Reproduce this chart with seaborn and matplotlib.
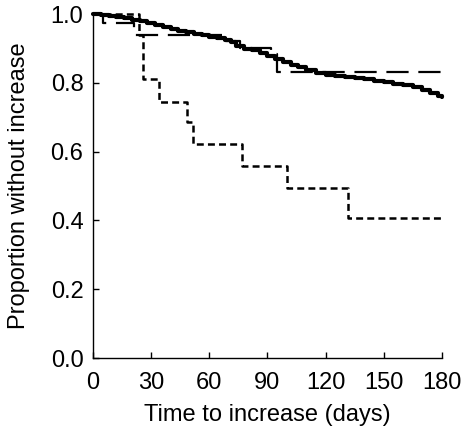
import matplotlib
matplotlib.use("Agg")
import matplotlib.pyplot as plt
import seaborn as sns
import pandas as pd

# step curves (time in days, proportion without increase)
solid_t = [0, 4, 8, 12, 16, 20, 24, 28, 32, 36, 40, 44, 48, 52, 56, 60, 64, 68, 71, 74,
           78, 82, 86, 90, 94, 98, 102, 106, 110, 115, 120, 125, 130, 135, 140, 145, 150,
           155, 160, 165, 170, 174, 178, 180]
solid_v = [1.0, 0.998, 0.995, 0.993, 0.988, 0.984, 0.979, 0.974, 0.969, 0.963, 0.958,
           0.952, 0.947, 0.943, 0.939, 0.935, 0.930, 0.925, 0.918, 0.906, 0.900, 0.895,
           0.888, 0.878, 0.870, 0.861, 0.853, 0.846, 0.838, 0.830, 0.824, 0.821, 0.816,
           0.813, 0.810, 0.806, 0.802, 0.797, 0.793, 0.787, 0.779, 0.770, 0.762, 0.760]

dashed_t = [0, 5, 21, 68, 76, 92, 95, 180]
dashed_v = [1.0, 0.973, 0.940, 0.921, 0.902, 0.885, 0.832, 0.832]

dotted_t = [0, 23.5, 26, 34, 48.5, 51.5, 77, 100, 131.5, 180]
dotted_v = [1.0, 0.94, 0.812, 0.745, 0.685, 0.623, 0.557, 0.493, 0.406, 0.406]

xticks = [0, 30, 60, 90, 120, 150, 180]
yticks = [0.0, 0.2, 0.4, 0.6, 0.8, 1.0]

sns.set_style("ticks")
plt.rcParams["font.family"] = ["Liberation Sans", "DejaVu Sans"]
plt.rcParams["lines.scale_dashes"] = False
plt.rcParams["xtick.direction"] = "in"
plt.rcParams["ytick.direction"] = "in"
plt.rcParams["text.color"] = "black"
plt.rcParams["axes.labelcolor"] = "black"
plt.rcParams["xtick.color"] = "black"
plt.rcParams["ytick.color"] = "black"

fig = plt.figure(figsize=(4.68, 4.29), dpi=100)
ax = fig.add_axes([0.199, 0.1655, 0.745, 0.8015])

solid = pd.DataFrame({"t": solid_t, "v": solid_v})
dashed = pd.DataFrame({"t": dashed_t, "v": dashed_v})
dotted = pd.DataFrame({"t": dotted_t, "v": dotted_v})

sns.lineplot(data=dotted, x="t", y="v", ax=ax, color="black", lw=1.8,
             drawstyle="steps-post", estimator=None, sort=False,
             linestyle=(0, (5, 3)), clip_on=False)
sns.lineplot(data=dashed, x="t", y="v", ax=ax, color="black", lw=1.6,
             drawstyle="steps-post", estimator=None, sort=False,
             linestyle=(0, (16, 7)), clip_on=False)
sns.lineplot(data=solid, x="t", y="v", ax=ax, color="black", lw=3.0,
             drawstyle="steps-post", estimator=None, sort=False, clip_on=False)

ax.set_xlim(0, 180)
ax.set_ylim(0, 1.0)
ax.set_xticks(xticks)
ax.set_yticks(yticks)
ax.set_yticklabels([f"{y:.1f}" for y in yticks])
ax.tick_params(labelsize=17, length=4, width=1, color="black", labelcolor="black")
ax.tick_params(axis="x", pad=10)
ax.tick_params(axis="y", pad=7)
ax.set_xlabel("Time to increase (days)", fontsize=17, labelpad=7)
ax.set_ylabel("Proportion without increase", fontsize=17, labelpad=15)
sns.despine(ax=ax)
for s in ["left", "bottom"]:
    ax.spines[s].set_linewidth(1.0)
    ax.spines[s].set_color("black")

fig.savefig("out.png", dpi=100, facecolor="white")
